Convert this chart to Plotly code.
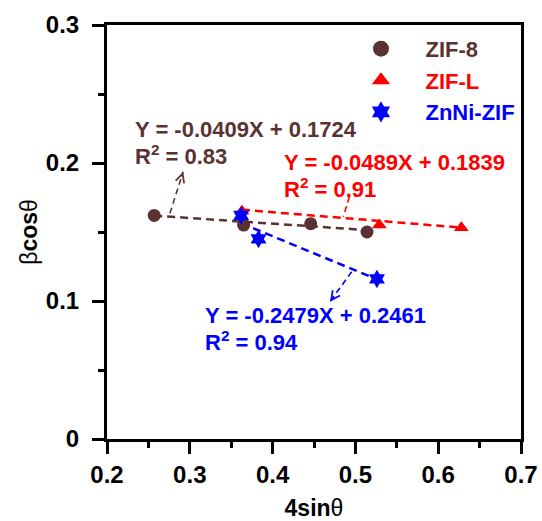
import plotly.graph_objects as go

# ---- data ----
series_names = ["ZIF-8", "ZIF-L", "ZnNi-ZIF"]
zif8_x = [0.257, 0.365, 0.446, 0.514]
zif8_y = [0.162, 0.155, 0.156, 0.150]
zifl_x = [0.363, 0.529, 0.628]
zifl_y = [0.165, 0.155, 0.153]
znni_x = [0.362, 0.383, 0.526]
znni_y = [0.162, 0.145, 0.116]

slopes = [-0.0409, -0.0489, -0.2479]
intercepts = [0.1724, 0.1839, 0.2461]
r2_values = [0.83, 0.91, 0.94]

# label anchor (left, middle) for equation / R2 text, and arrow tail/head
eq_pos = [(0.2314, 0.2245), (0.411, 0.2005), (0.3163, 0.0895)]
r2_pos = [(0.2314, 0.2060), (0.411, 0.1820), (0.3163, 0.0707)]
arrow_tail = [(0.276, 0.1635), (0.4927, 0.1756), (0.4955, 0.1212)]
arrow_head = [(0.292, 0.1937), (0.4855, 0.1610), (0.4693, 0.0995)]

colors = ["#5B3232", "#FF0000", "#0000FF"]
symbols = ["circle", "triangle-up", "hexagram"]
sizes = [13, 13, 14]
legend_sizes = [20, 18, 18]

FONT = "Liberation Sans, Arial, sans-serif"

xs = [zif8_x, zifl_x, znni_x]
ys = [zif8_y, zifl_y, znni_y]

fig = go.Figure()

# fitted lines
for i in range(3):
    x0, x1 = min(xs[i]), max(xs[i])
    fig.add_trace(go.Scatter(
        x=[x0, x1], y=[slopes[i] * x0 + intercepts[i], slopes[i] * x1 + intercepts[i]],
        mode="lines", line=dict(color=colors[i], width=2.5, dash="8px,5px"),
        showlegend=False, hoverinfo="skip"))

# markers
pad = "\u00a0" * 4
for i in range(3):
    fig.add_trace(go.Scatter(
        x=xs[i], y=ys[i], mode="markers",
        marker=dict(symbol=symbols[i], size=sizes[i], color=colors[i]),
        showlegend=False, name=series_names[i]))
# legend entries (larger symbols, as in the reference legend)
for i in range(3):
    fig.add_trace(go.Scatter(
        x=[None], y=[None], mode="markers",
        marker=dict(symbol=symbols[i], size=legend_sizes[i], color=colors[i]),
        name=f"{pad}<span style='color:{colors[i]}'>{series_names[i]}</span>"))

annotations = []
shapes = []
for i in range(3):
    annotations.append(dict(
        x=eq_pos[i][0], y=eq_pos[i][1], xref="x", yref="y",
        text=f"<b>Y = {slopes[i]:.4f}X + {intercepts[i]:.4f}</b>",
        showarrow=False, xanchor="left", yanchor="middle",
        font=dict(family=FONT, size=22, color=colors[i])))
    annotations.append(dict(
        x=r2_pos[i][0], y=r2_pos[i][1], xref="x", yref="y",
        text=f"<b>R<sup>2</sup> = {r2_values[i]:.2f}</b>",
        showarrow=False, xanchor="left", yanchor="middle",
        font=dict(family=FONT, size=22, color=colors[i])))
    tx, ty = arrow_tail[i]
    hx, hy = arrow_head[i]
    # dashed shaft
    shapes.append(dict(type="line", xref="x", yref="y",
                       x0=tx, y0=ty, x1=hx, y1=hy,
                       line=dict(color=colors[i], width=1.6, dash="6px,4px")))
    # arrow head only
    dx, dy = hx - tx, hy - ty
    annotations.append(dict(
        x=hx, y=hy, xref="x", yref="y",
        ax=hx - dx * 0.15, ay=hy - dy * 0.15, axref="x", ayref="y",
        text="", showarrow=True, arrowhead=5, arrowsize=1.1, arrowwidth=1.6,
        arrowcolor=colors[i]))

axis_common = dict(
    showline=True, linewidth=3, linecolor="black", mirror=True,
    ticks="outside", ticklen=12, tickwidth=3, tickcolor="black",
    showgrid=False, zeroline=False, automargin=False,
    tickfont=dict(family=FONT, size=24, color="black", weight="bold"),
)

fig.update_layout(
    width=542, height=521,
    margin=dict(l=107, r=21, t=25, b=82),
    plot_bgcolor="white", paper_bgcolor="white",
    xaxis=dict(range=[0.2, 0.7], dtick=0.1, tick0=0.2,
               minor=dict(dtick=0.05, tick0=0.2, ticks="outside", ticklen=6,
                          tickwidth=3, tickcolor="black"),
               ticklabelstandoff=0,
               title=dict(text="<b>4sin</b>θ", standoff=15,
                          font=dict(family=FONT, size=23, color="black")),
               **axis_common),
    yaxis=dict(range=[0, 0.3], dtick=0.1, tick0=0,
               minor=dict(dtick=0.05, tick0=0, ticks="outside", ticklen=6,
                          tickwidth=3, tickcolor="black"),
               ticklabelstandoff=8,
               title=dict(text="β<b>cos</b>θ", standoff=2,
                          font=dict(family=FONT, size=23, color="black")),
               **axis_common),
    legend=dict(x=0.6135, y=0.993, xanchor="left", yanchor="top",
                bgcolor="rgba(0,0,0,0)", itemsizing="trace",
                font=dict(family=FONT, size=22, weight="bold")),
    annotations=annotations,
    shapes=shapes,
    showlegend=True,
)

fig.write_html("out.html", config={"displayModeBar": False},
               post_script="document.body.style.margin='0';")
